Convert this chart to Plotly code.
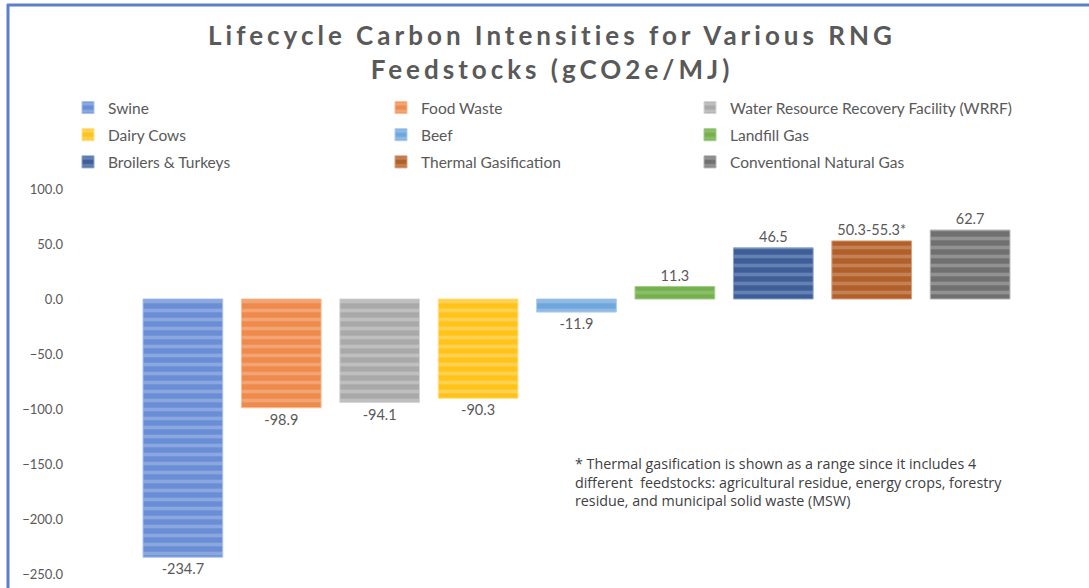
import plotly.graph_objects as go

# ---- data ----
categories = ["Swine", "Food Waste", "Water Resource Recovery Facility (WRRF)",
              "Dairy Cows", "Beef", "Landfill Gas",
              "Broilers & Turkeys", "Thermal Gasification", "Conventional Natural Gas"]
values = [-234.7, -98.9, -94.1, -90.3, -11.9, 11.3, 46.5, 52.8, 62.7]
value_labels = ["-234.7", "-98.9", "-94.1", "-90.3", "-11.9", "11.3", "46.5", "50.3-55.3*", "62.7"]
y_ticks = [100, 50, 0, -50, -100, -150, -200, -250]

base_colors = ["#6A8ED6", "#EE8A4C", "#A9A9A9", "#FFC31A", "#6FA6DB",
               "#74B04D", "#3E5E98", "#B0602A", "#707070"]
stripe_colors = ["#A9C0EA", "#F6BF9A", "#D6D6D6", "#FFE08C", "#ADCDEE",
                 "#A2CC86", "#8BA3CD", "#D9A07C", "#B3B3B3"]
legend_col = [1, 2, 3, 1, 2, 3, 1, 2, 3]

W, H = 1089, 588
ML, MR, MT, MB = 70, 20, 189, 14
PW, PH = W - ML - MR, H - MT - MB


def px_x(px):
    return (px - ML) / PW


def px_y(py):
    return (H - MB - py) / PH


GREY = "#595959"
FONT = "Lato, 'Open Sans', sans-serif"

fig = go.Figure()
for i, cat in enumerate(categories):
    lg = "legend" if legend_col[i] == 1 else f"legend{legend_col[i]}"
    fig.add_trace(go.Bar(
        x=[i], y=[values[i]], name=cat, width=0.81,
        text=[value_labels[i]], textposition="outside",
        textfont=dict(size=14.5, color=GREY, family=FONT),
        cliponaxis=False,
        marker=dict(color=base_colors[i],
                    line=dict(color=stripe_colors[i], width=1),
                    pattern=dict(shape="-", fgcolor=stripe_colors[i],
                                 bgcolor=base_colors[i], size=9, solidity=0.4)),
        legend=lg, legendgroup=cat, showlegend=True,
        hovertemplate=cat + ": %{y}<extra></extra>",
    ))

leg_common = dict(orientation="v", yanchor="top", xanchor="left",
                  font=dict(size=15.5, color=GREY, family=FONT),
                  tracegroupgap=4, bgcolor="rgba(0,0,0,0)", itemwidth=30)
fig.update_layout(
    width=W, height=H,
    margin=dict(l=ML, r=MR, t=MT, b=MB, autoexpand=False),
    paper_bgcolor="white", plot_bgcolor="white",
    barmode="overlay",
    showlegend=True,
    title=dict(
        text='<span style="letter-spacing:4px">Lifecycle Carbon Intensities for Various RNG</span><br>'
             '<span style="letter-spacing:4px">Feedstocks (gCO2e/MJ)</span>',
        x=552 / W, xanchor="center", xref="container",
        y=1 - 45 / H, yanchor="top", yref="container",
        font=dict(size=26, color=GREY, family=FONT, weight="bold"),
    ),
    legend=dict(x=px_x(68), y=px_y(91), **leg_common),
    legend2=dict(x=px_x(381), y=px_y(91), **leg_common),
    legend3=dict(x=px_x(690), y=px_y(91), **leg_common),
    xaxis=dict(range=[-1.147, 9.005], visible=False, fixedrange=True, automargin=False),
    yaxis=dict(range=[-250, 100], tickvals=y_ticks, tickformat=".1f",
               showgrid=False, zeroline=False, showline=False,
               ticks="", ticklabelstandoff=6, automargin=False,
               tickfont=dict(size=13, color=GREY, family=FONT)),
    font=dict(family=FONT, color=GREY),
)

# footnote
fig.add_annotation(
    x=px_x(573), y=px_y(452), xref="paper", yref="paper",
    xanchor="left", yanchor="top", align="left", showarrow=False,
    text="* Thermal gasification is shown as a range since it includes 4<br>"
         "different  feedstocks: agricultural residue, energy crops, forestry<br>"
         "residue, and municipal solid waste (MSW)",
    font=dict(size=14.3, color="#404040", family="'Open Sans', sans-serif"),
)

# chart frame (blue edges on left and top)
fig.add_shape(type="line", xref="paper", yref="paper",
              x0=px_x(8), x1=px_x(8), y0=px_y(H), y1=px_y(4),
              line=dict(color="#5B7FC8", width=3))
fig.add_shape(type="line", xref="paper", yref="paper",
              x0=px_x(7), x1=px_x(W), y0=px_y(5), y1=px_y(5),
              line=dict(color="#5B7FC8", width=3))

fig.write_html("out.html",
               config={"displayModeBar": False},
               post_script="document.body.style.margin='0';document.body.style.padding='0';")
